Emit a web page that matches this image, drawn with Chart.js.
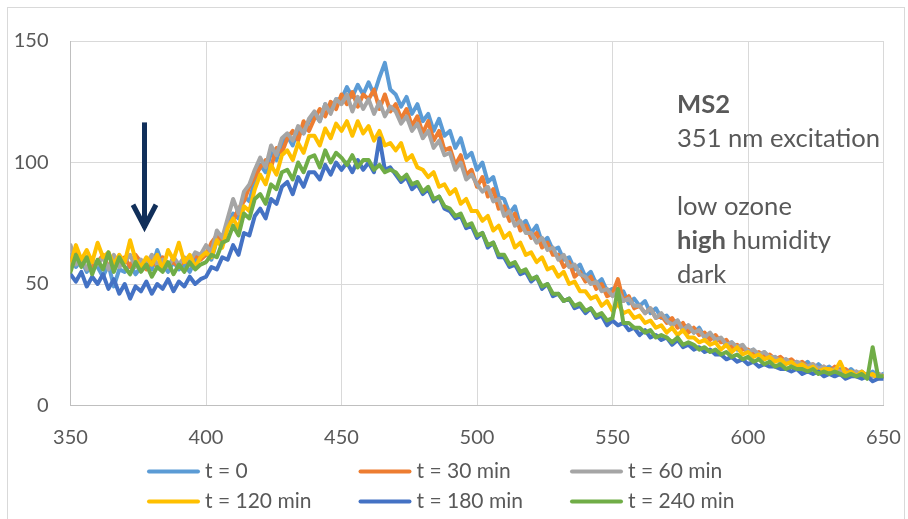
<!DOCTYPE html>
<html>
<head>
<meta charset="utf-8">
<title>MS2 fluorescence spectra</title>
<script src="https://cdn.jsdelivr.net/npm/chart.js@4.4.1/dist/chart.umd.min.js"></script>
<style>
  html, body { margin: 0; padding: 0; background: #ffffff; }
  #wrap { position: relative; width: 908px; height: 519px; }
</style>
</head>
<body>
<div id="wrap"><canvas id="c" width="908" height="519"></canvas></div>
<script>
// Emission wavelength (nm)
const wavelength = [
  350,352,354,356,358, 360,362,364,366,368, 370,372,374,376,378, 380,382,384,386,388,
  390,392,394,396,398, 400,402,404,406,408, 410,412,414,416,418, 420,422,424,426,428,
  430,432,434,436,438, 440,442,444,446,448, 450,452,454,456,458, 460,462,464,466,468,
  470,472,474,476,478, 480,482,484,486,488, 490,492,494,496,498, 500,502,504,506,508,
  510,512,514,516,518, 520,522,524,526,528, 530,532,534,536,538, 540,542,544,546,548,
  550,552,554,556,558, 560,562,564,566,568, 570,572,574,576,578, 580,582,584,586,588,
  590,592,594,596,598, 600,602,604,606,608, 610,612,614,616,618, 620,622,624,626,628,
  630,632,634,636,638, 640,642,644,646,648, 650
];

const seriesLabels = ['t = 0', 't = 30 min', 't = 60 min', 't = 120 min', 't = 180 min', 't = 240 min'];

// Fluorescence intensity for each exposure time
const t0 = [
  62,57,60,55,58, 57,53,58,49,56, 55,58,54,57,60, 56,64,58,55,59,
  56,58,55,60,61, 63,60,68,66,74, 79,77,86,84,93, 99,96,104,101,108,
  111,107,114,112,117, 120,117,124,121,126, 126,131,127,132,128, 133,128,135,141,130,
  128,123,127,120,124, 117,120,113,118,111, 113,106,110,102,104, 97,100,92,94,86,
  85,79,82,74,76, 71,74,67,69,64, 65,60,61,56,58, 53,55,50,52,47,
  48,45,47,42,44, 41,43,38,40,36, 37,34,35,31,33, 30,32,28,29,27,
  27,25,26,23,24, 22,23,20,22,19, 20,18,19,17,18, 16,18,15,17,15,
  16,14,15,13,15, 13,14,12,14,12, 13
];
const t30 = [
  60,63,58,61,57, 59,62,57,60,58, 61,57,62,59,56, 60,57,61,58,59,
  57,60,58,62,60, 62,67,70,68,75, 76,81,84,90,94, 98,101,98,106,104,
  110,113,109,117,113, 118,122,119,125,122, 128,124,129,123,128, 126,130,122,128,121,
  124,118,122,115,119, 112,117,109,113,105, 106,99,103,95,97, 90,94,86,89,81,
  82,76,79,72,74, 69,71,65,67,62, 62,57,59,53,55, 51,53,48,50,45,
  46,52,43,45,40, 41,38,40,36,37, 34,36,32,34,30, 32,29,30,27,29,
  26,27,24,25,23, 23,21,22,20,21, 19,20,18,19,17, 18,16,17,15,16,
  14,16,14,15,13, 14,12,13,12,13, 12
];
const t60 = [
  66,58,61,56,60, 58,61,56,62,57, 59,62,57,60,58, 62,58,60,57,61,
  58,61,59,63,62, 66,63,72,69,77, 85,79,88,91,97, 102,98,107,103,110,
  112,109,115,112,118, 121,117,124,120,126, 124,128,121,127,122, 126,120,125,119,123,
  121,116,119,113,116, 110,113,106,109,103, 104,97,100,93,95, 91,88,90,84,85,
  78,80,74,76,71, 71,67,69,64,65, 60,62,57,58,54, 53,50,51,47,48,
  45,47,43,44,41, 41,38,40,36,38, 35,33,35,31,33, 30,31,28,30,27,
  28,25,26,24,25, 22,23,21,22,20, 20,18,19,17,18, 17,16,17,15,16,
  14,15,14,14,13, 14,12,13,12,13, 12
];
const t120 = [
  58,66,60,64,59, 67,61,63,58,62, 59,68,60,57,61, 58,62,56,64,60,
  67,59,62,57,61, 63,61,68,65,73, 77,73,82,80,89, 95,91,99,95,103,
  105,101,108,104,111, 111,107,114,110,116, 113,117,111,117,112, 115,109,113,107,108,
  105,108,101,103,98, 97,94,96,90,91, 87,89,83,85,80, 80,76,78,72,74,
  69,71,65,67,62, 63,59,61,56,57, 53,55,50,51,47, 47,44,45,41,43,
  39,42,38,39,36, 37,34,35,32,33, 30,32,29,31,28, 28,26,27,25,26,
  23,25,22,24,21, 22,20,21,19,20, 18,19,17,18,16, 17,15,16,14,15,
  15,14,18,13,14, 12,14,12,13,11, 12
];
const t180 = [
  54,51,55,49,53, 50,54,48,52,46, 50,44,49,47,51, 46,50,48,52,47,
  51,49,53,50,52, 53,57,56,61,60, 66,62,71,70,78, 81,77,85,83,90,
  92,87,94,90,96, 96,93,99,95,100, 97,100,96,101,97, 100,96,110,97,98,
  95,92,94,89,91, 87,89,84,86,81, 80,77,78,73,74, 69,71,65,67,61,
  61,57,58,54,55, 51,53,48,50,45, 46,43,44,40,41, 38,40,36,37,33,
  35,33,34,31,32, 29,31,28,29,27, 28,25,27,24,25, 23,24,22,23,21,
  21,19,20,18,19, 17,18,16,17,16, 16,15,15,14,15, 13,14,13,14,12,
  13,12,13,11,12, 12,11,12,10,11, 11
];
const t240 = [
  55,62,57,61,54, 60,56,63,55,61, 57,54,59,55,58, 53,57,55,59,54,
  58,55,59,56,58, 59,62,61,67,68, 74,70,79,77,85, 87,83,91,89,96,
  97,93,100,96,102, 103,98,105,100,104, 102,99,103,98,101, 101,97,99,96,97,
  96,93,95,91,92, 88,90,85,86,82, 81,78,79,74,75, 70,71,66,67,62,
  62,58,59,55,56, 52,53,49,50,46, 46,43,44,41,42, 39,40,37,38,35,
  36,48,34,34,32, 32,30,31,28,29, 28,26,28,25,26, 25,23,24,22,23,
  21,22,20,21,19, 20,18,19,17,18, 16,17,15,16,15, 15,14,15,13,14,
  13,14,13,12,13, 12,13,11,24,12, 12
];

const xTicks = [350, 400, 450, 500, 550, 600, 650];
const yTicks = [0, 50, 100, 150];

// Downward arrow marking the excitation region (data units)
const arrowX = 377;
const arrowFrom = 116.5;
const arrowTo = 71.5;

// Side note, one entry per line; bold parts flagged
const noteLines = [
  [['MS2', true]],
  [['351 nm excitation', false]],
  [],
  [['low ozone', false]],
  [['high', true], [' humidity', false]],
  [['dark', false]]
];

const seriesValues = [t0, t30, t60, t120, t180, t240];
const seriesColors = ['#5B9BD5', '#ED7D31', '#A5A5A5', '#FFC000', '#4472C4', '#70AD47'];
const textColor = '#595959';
const fontFamily = 'Lato, "Open Sans", sans-serif';

const datasets = seriesValues.map((vals, i) => ({
  label: seriesLabels[i],
  data: vals.map((v, k) => ({ x: wavelength[k], y: v })),
  borderColor: seriesColors[i],
  backgroundColor: seriesColors[i],
  borderWidth: 4,
  borderJoinStyle: 'round',
  borderCapStyle: 'round',
  pointRadius: 0,
  tension: 0,
  fill: false,
  // later series sit on top
  order: seriesValues.length - i
}));

const decorations = {
  id: 'decorations',
  beforeDraw(chart) {
    const ctx = chart.ctx;
    ctx.save();
    ctx.fillStyle = '#ffffff';
    ctx.fillRect(0, 0, chart.width, chart.height);
    ctx.strokeStyle = '#d9d9d9';
    ctx.lineWidth = 1;
    ctx.strokeRect(7.5, 7.5, 897, 600);
    ctx.restore();
  },
  afterDraw(chart) {
    const { ctx } = chart;
    const xs = chart.scales.x, ys = chart.scales.y;
    ctx.save();

    // arrow
    const ax = Math.round(xs.getPixelForValue(arrowX)) + 0.5;
    const ay0 = ys.getPixelForValue(arrowFrom);
    const ay1 = ys.getPixelForValue(arrowTo);
    ctx.strokeStyle = '#112f5a';
    ctx.lineWidth = 5;
    ctx.lineCap = 'butt';
    ctx.lineJoin = 'miter';
    ctx.beginPath();
    ctx.moveTo(ax, ay0);
    ctx.lineTo(ax, ay1 - 4);
    ctx.stroke();
    ctx.beginPath();
    ctx.moveTo(ax - 11.5, ay1 - 27);
    ctx.lineTo(ax, ay1 - 5);
    ctx.lineTo(ax + 11.5, ay1 - 27);
    ctx.stroke();

    // side note
    ctx.fillStyle = textColor;
    ctx.textBaseline = 'alphabetic';
    ctx.textAlign = 'left';
    const nx = 677;
    let ny = 112.5;
    noteLines.forEach(parts => {
      let cx = nx;
      parts.forEach(([txt, bold]) => {
        ctx.font = (bold ? 'bold ' : '') + '25.6px ' + fontFamily;
        ctx.fillText(txt, cx, ny);
        cx += ctx.measureText(txt).width;
      });
      ny += 34;
    });

    // legend
    ctx.font = '21px ' + fontFamily;
    ctx.textBaseline = 'middle';
    chart.data.datasets.forEach((ds, i) => {
      const col = i % 3, row = Math.floor(i / 3);
      const lx = 147 + col * 211.5;
      const ly = 471.5 + row * 30;
      ctx.strokeStyle = ds.borderColor;
      ctx.lineWidth = 4;
      ctx.lineCap = 'round';
      ctx.beginPath();
      ctx.moveTo(lx + 2, ly);
      ctx.lineTo(lx + 51, ly);
      ctx.stroke();
      ctx.fillStyle = textColor;
      ctx.fillText(ds.label, lx + 58, ly);
    });
    ctx.restore();
  }
};

new Chart(document.getElementById('c'), {
  type: 'line',
  data: { datasets },
  plugins: [decorations],
  options: {
    responsive: false,
    animation: false,
    devicePixelRatio: 1,
    layout: { padding: { left: 0, top: 41, right: 24.5, bottom: 0 } },
    plugins: { legend: { display: false }, tooltip: { enabled: false } },
    scales: {
      x: {
        type: 'linear',
        min: 350, max: 650,
        afterBuildTicks: s => { s.ticks = xTicks.map(v => ({ value: v })); },
        afterFit: s => { s.height = 113.5; s.paddingLeft = 0; s.paddingRight = 0; },
        grid: { color: '#d9d9d9', lineWidth: 1, drawTicks: false },
        border: { color: '#bfbfbf', width: 1 },
        ticks: { padding: 20, color: textColor, font: { family: fontFamily, size: 20 }, maxRotation: 0, autoSkip: false }
      },
      y: {
        min: 0, max: 150,
        afterBuildTicks: s => { s.ticks = yTicks.map(v => ({ value: v })); },
        afterFit: s => { s.width = 70.5; s.paddingTop = 0; s.paddingBottom = 0; },
        grid: { color: '#d9d9d9', lineWidth: 1, drawTicks: false },
        border: { color: '#bfbfbf', width: 1 },
        ticks: { padding: 22, color: textColor, font: { family: fontFamily, size: 20 } }
      }
    }
  }
});
</script>
</body>
</html>
